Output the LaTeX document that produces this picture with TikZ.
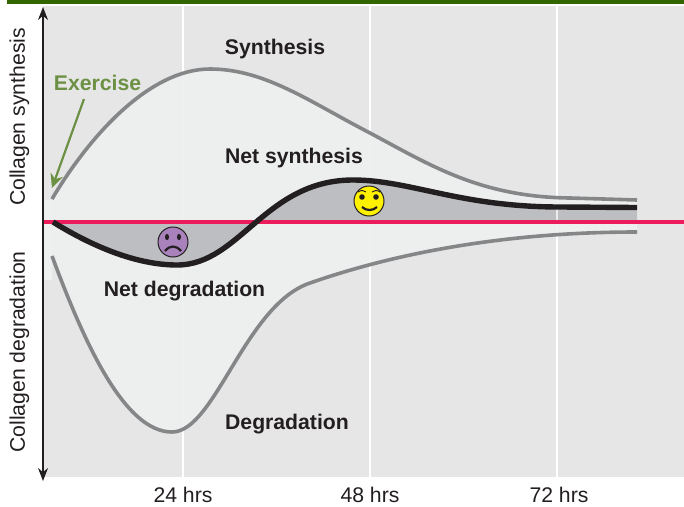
\documentclass[tikz,border=0pt]{standalone}
\usepackage{fontspec}
\setmainfont{Liberation Sans}
\usetikzlibrary{arrows.meta}
\definecolor{bgc}{HTML}{E6E6E6}
\definecolor{lightc}{HTML}{EEF0F0}
\definecolor{darkc}{HTML}{BDBEC1}
\definecolor{curvec}{HTML}{858688}
\definecolor{netc}{HTML}{231F20}
\definecolor{redc}{HTML}{EC1C5C}
\definecolor{greenc}{HTML}{6C9044}
\definecolor{barc}{HTML}{336600}
\definecolor{purplec}{HTML}{A982BC}
\definecolor{yellowc}{HTML}{FFF200}
\newcommand\synthpath{(52,199) .. controls (90,135) and (150,69) .. (210,69) .. controls (265,69) and (310,102) .. (370,133) .. controls (430,165) and (480,197) .. (570,198) -- (637,200)}
\newcommand\degpath{(52,256) .. controls (85,345) and (125,432) .. (172,432) .. controls (215,432) and (245,305) .. (310,283) .. controls (370,262) and (480,232) .. (637,232)}
\newcommand\netpath{(53,222) .. controls (90,245) and (135,265) .. (177,265) .. controls (240,265) and (265,180) .. (353,180) .. controls (410,180) and (460,207) .. (560,207) -- (637,207.5)}
\tikzset{
 curve/.style={draw=curvec,line width=3.6pt},
 netcurve/.style={draw=netc,line width=5.4pt},
 gridline/.style={draw=white,line width=2.4pt},
 bold/.style={font=\fontsize{21.2}{24}\selectfont\bfseries,text=netc,inner sep=0pt},
 plain/.style={font=\fontsize{21.2}{24}\selectfont,text=netc,inner sep=0pt},
 face/.style={circle,draw=netc,line width=1pt,minimum size=30pt,inner sep=0pt},
}
\begin{document}
\begin{tikzpicture}[x=1pt,y=-1pt]
\useasboundingbox (0,0) rectangle (684,506);
\fill[white] (0,0) rectangle (684,506);
\fill[barc] (7,0) rectangle (684,4);
\fill[bgc] (43,6) rectangle (684,477);
\foreach \gx in {183,370,557} \draw[gridline] (\gx,6) -- (\gx,477);
\fill[lightc,opacity=.9] \synthpath -- (637,222) -- (52,222) -- cycle;
\fill[lightc,opacity=.9] \degpath -- (637,222) -- (52,222) -- cycle;
\fill[lightc] (44,200) rectangle (52,280);
\fill[darkc] \netpath -- (637,222) -- (53,222) -- cycle;
\draw[white,opacity=.7,line width=1.8pt] (557,208) -- (557,221);
\draw[curve] \synthpath;
\draw[curve] \degpath;
\draw[draw=redc,line width=3.6pt] (43,222) -- (684,222);
\draw[netcurve] \netpath;
% axis
\coordinate (axtop) at (43,7);
\coordinate (axbot) at (43,481);
\draw[draw=netc,line width=1.2pt,{Stealth[length=13pt,width=10pt]}-{Stealth[length=13pt,width=10pt]}] (axtop) -- (axbot);
% exercise
\node[font=\fontsize{21.2}{24}\selectfont\bfseries,text=greenc,inner sep=0pt] (ex) at (97.5,82.5) {Exercise};
\coordinate (exfrom) at (84,99);
\coordinate (exto) at (52,188);
\draw[draw=greenc,line width=2.2pt,-{Stealth[length=14pt,width=13pt]}] (exfrom) -- (exto);
% labels
\node[bold] (syn) at (275,49.5) {Synthesis};
\node[bold] (net) at (294,158.5) {Net synthesis};
\node[bold] (ndeg) at (184.5,291.5) {Net degradation};
\node[bold] (deg) at (287,424.5) {Degradation};
\node[plain] (t24) at (183,495) {24 hrs};
\node[plain] (t48) at (370,495) {48 hrs};
\node[plain] (t72) at (559,495) {72 hrs};
\node[plain,rotate=90] (ys) at (19.5,117) {Collagen synthesis};
\node[plain,rotate=90] (yd) at (19.5,352) {Collagen degradation};
% sad face
\node[face,fill=purplec] (sad) at (173,242) {};
\fill[netc] (167,237) ellipse (2 and 3.2);
\fill[netc] (179,237) ellipse (2 and 3.2);
\draw[netc,line width=2.2pt] (165,251) .. controls (170,245) and (176,245) .. (181,251);
% happy face
\node[face,fill=yellowc] (happy) at (369,201) {};
\fill[netc] (362,197) circle (2.8);
\fill[netc] (376,197) circle (2.8);
\draw[netc,line width=0.9pt] (358,192) .. controls (361,190) and (364,190) .. (366,192) (372,192) .. controls (374,190) and (377,190) .. (380,192);
\draw[netc,line width=2.2pt] (362,207) .. controls (366,211) and (373,211) .. (377,207);
\end{tikzpicture}
\end{document}
